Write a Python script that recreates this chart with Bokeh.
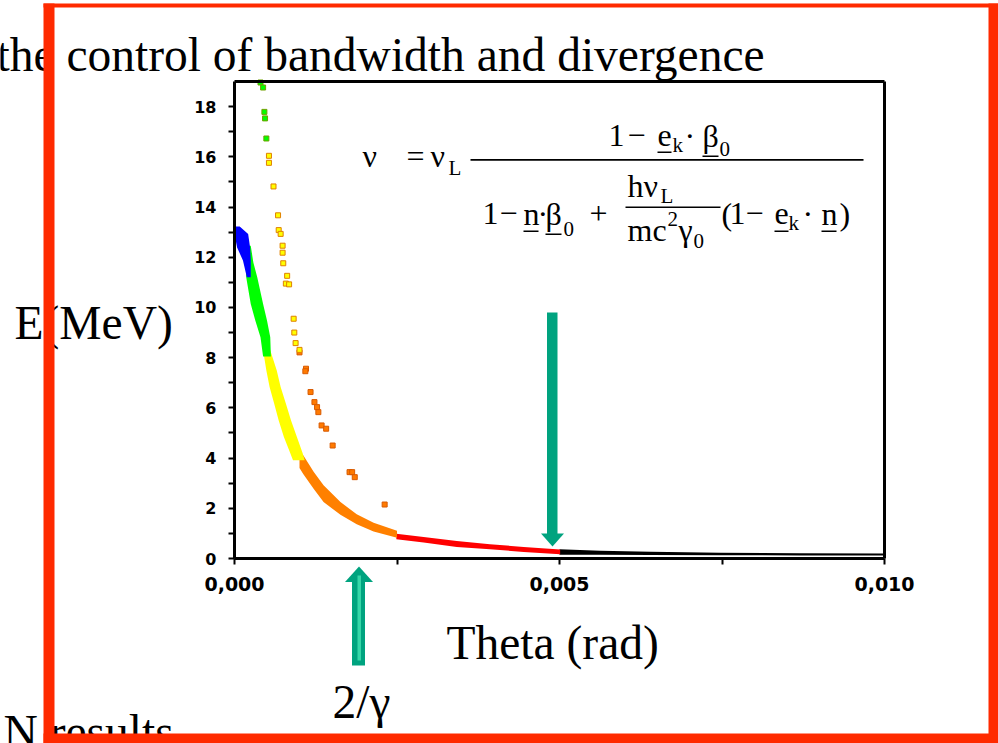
from bokeh.plotting import figure
from bokeh.models import Range1d, FixedTicker, Label, BoxAnnotation, PolyAnnotation, LinearAxis
from bokeh.embed import file_html
from bokeh.resources import INLINE

# ---------------- data (theta in mrad, E in MeV) ----------------
x_ticks = [0, 5, 10]
x_minor = [2.5, 7.5]
x_tick_labels = ["0,000", "0,005", "0,010"]
y_ticks = [0, 2, 4, 6, 8, 10, 12, 14, 16, 18]
y_minor = [1, 3, 5, 7, 9, 11, 13, 15, 17]
y_tick_labels = ["0", "2", "4", "6", "8", "10", "12", "14", "16", "18"]
x_axis_max = 10
y_axis_max = 19

# steep part of the band: E levels with left / right theta edges
blue_E = [13.22, 12.93, 12.39, 11.87, 11.20]
blue_lo = [0.0, 0.0, 0.04, 0.13, 0.19]
blue_hi = [0.08, 0.21, 0.24, 0.25, 0.25]

green_E = [12.46, 11.79, 11.20, 10.14, 9.48, 8.81, 8.05]
green_lo = [0.20, 0.17, 0.18, 0.25, 0.32, 0.40, 0.44]
green_hi = [0.25, 0.29, 0.35, 0.44, 0.50, 0.55, 0.56]

yellow_E = [8.30, 7.49, 6.83, 6.17, 5.50, 4.84, 4.18, 3.91]
yellow_lo = [0.44, 0.49, 0.54, 0.61, 0.68, 0.76, 0.86, 0.90]
yellow_hi = [0.55, 0.65, 0.71, 0.79, 0.87, 0.96, 1.05, 1.08]

# flat part of the band: theta with lower / upper E edges
orange_t = [1.00, 1.06, 1.22, 1.37, 1.63, 1.88, 2.14, 2.50]
orange_lo = [3.60, 3.36, 2.77, 2.25, 1.74, 1.36, 1.08, 0.83]
orange_hi = [4.20, 4.10, 3.45, 2.92, 2.25, 1.76, 1.42, 1.11]

red_t = [2.49, 2.91, 3.42, 3.93, 4.45, 5.01]
red_lo = [0.77, 0.64, 0.46, 0.37, 0.26, 0.17]
red_hi = [0.99, 0.86, 0.70, 0.57, 0.46, 0.36]

black_t = [5.00, 5.63, 6.40, 7.47, 8.70, 9.98]
black_lo = [0.15, 0.15, 0.14, 0.13, 0.12, 0.12]
black_hi = [0.37, 0.31, 0.27, 0.23, 0.21, 0.20]

# scattered points
green_pt_t = [0.40, 0.44, 0.46, 0.47, 0.49]
green_pt_E = [18.96, 18.76, 17.79, 17.53, 16.73]
yellow_pt_t = [0.53, 0.53, 0.60, 0.67, 0.68, 0.71, 0.74, 0.74, 0.75, 0.81, 0.79, 0.84, 0.91, 0.92, 0.94, 1.00]
yellow_pt_E = [16.04, 15.76, 14.82, 13.67, 13.08, 12.93, 12.46, 12.18, 11.76, 11.26, 10.95, 10.92, 9.55, 9.00, 8.58, 8.31]
orange_pt_t = [1.00, 1.10, 1.09, 1.17, 1.23, 1.27, 1.29, 1.34, 1.41, 1.51, 1.77, 1.81, 1.85, 2.31]
orange_pt_E = [8.21, 7.56, 7.46, 6.63, 6.23, 6.03, 5.83, 5.30, 5.17, 4.50, 3.44, 3.44, 3.24, 2.15]

# ---------------- layout ----------------
W, H = 998, 743
FL, FR, FT, FB = 234, 884, 81, 558   # pixel box of the plot area inside the slide


def X(px):
    return (px - FL) * x_axis_max / (FR - FL)


def Y(py):
    return (FB - py) * y_axis_max / (FB - FT)


p = figure(width=W, height=H, x_range=Range1d(X(0), X(W)), y_range=Range1d(Y(H), Y(0)),
           output_backend="svg", toolbar_location=None, title=None,
           x_axis_location=None, y_axis_location=None,
           min_border=0, min_border_left=0, min_border_right=0,
           min_border_top=0, min_border_bottom=0)
p.background_fill_color = "white"
p.border_fill_color = "white"
p.outline_line_color = None
p.xgrid.visible = False
p.ygrid.visible = False


def style_axis(ax, label_size):
    ax.axis_line_width = 3
    ax.axis_line_color = "black"
    ax.major_tick_line_width = 2
    ax.minor_tick_line_width = 2
    ax.major_tick_in = 0
    ax.major_tick_out = 6
    ax.minor_tick_in = 0
    ax.minor_tick_out = 6
    ax.major_label_text_font = "DejaVu Sans"
    ax.major_label_text_font_style = "bold"
    ax.major_label_text_color = "black"
    ax.major_label_text_font_size = label_size
    ax.major_label_standoff = 12


xaxis = LinearAxis(fixed_location=0, bounds=(0, x_axis_max),
                   ticker=FixedTicker(ticks=x_ticks, minor_ticks=x_minor),
                   major_label_overrides=dict(zip(x_ticks, x_tick_labels)))
style_axis(xaxis, "19px")
p.add_layout(xaxis, "below")

yaxis = LinearAxis(fixed_location=0, bounds=(0, y_axis_max),
                   ticker=FixedTicker(ticks=y_ticks, minor_ticks=y_minor),
                   major_label_overrides=dict(zip(y_ticks, y_tick_labels)))
style_axis(yaxis, "16px")
p.add_layout(yaxis, "left")

topaxis = LinearAxis(fixed_location=y_axis_max, bounds=(0, x_axis_max),
                     ticker=FixedTicker(ticks=[], minor_ticks=[]))
style_axis(topaxis, "16px")
p.add_layout(topaxis, "above")

rightaxis = LinearAxis(fixed_location=x_axis_max, bounds=(0, y_axis_max),
                       ticker=FixedTicker(ticks=[], minor_ticks=[]))
style_axis(rightaxis, "16px")
p.add_layout(rightaxis, "right")

# ---------------- band ----------------
p.varea(x=black_t, y1=black_lo, y2=black_hi, fill_color="#000000")
p.varea(x=red_t, y1=red_lo, y2=red_hi, fill_color="#ff0000")
p.varea(x=orange_t, y1=orange_lo, y2=orange_hi, fill_color="#ff8000")
p.harea(y=yellow_E, x1=yellow_lo, x2=yellow_hi, fill_color="#ffff00")
p.harea(y=green_E, x1=green_lo, x2=green_hi, fill_color="#00ff00")
p.harea(y=blue_E, x1=blue_lo, x2=blue_hi, fill_color="#0000ff")

p.scatter(orange_pt_t, orange_pt_E, marker="square", size=5,
          fill_color="#ff7a00", line_color="#d85a00", line_width=1)
p.scatter(yellow_pt_t, yellow_pt_E, marker="square", size=5,
          fill_color="#ffff00", line_color="#e08000", line_width=1)
p.scatter(green_pt_t, green_pt_E, marker="square", size=5,
          fill_color="#00ff00", line_color="#70a000", line_width=1)

# ---------------- helpers for slide texts / decorations ----------------
KB = 0.36  # correction so that py is the text baseline


def txt(s, px, py, size, font="Liberation Serif", align="left"):
    p.add_layout(Label(x=X(px), y=Y(py - KB * size), text=s, text_font=font,
                       text_font_size=f"{size}px", text_align=align,
                       text_baseline="alphabetic", text_color="black"))


def box(x0, x1, y0, y1, color):
    p.add_layout(BoxAnnotation(left=X(x0), right=X(x1), top=Y(y0), bottom=Y(y1),
                               fill_color=color, fill_alpha=1.0,
                               line_color=None, line_alpha=0.0))


def poly(pts, color):
    p.add_layout(PolyAnnotation(xs=[X(a) for a, b in pts], ys=[Y(b) for a, b in pts],
                                fill_color=color, fill_alpha=1.0,
                                line_color=None, line_alpha=0.0))


def ul(x0, x1, y):
    box(x0, x1, y, y + 1.5, "black")


BIG = 47.5
txt("the control of bandwidth and divergence", -4, 72, BIG)
txt("E(MeV)", 14, 340, BIG)
txt("Theta (rad)", 446, 660, BIG)
txt("2/γ", 332, 719, BIG)
txt("N results", 3, 749, BIG)

# formula
FS, SS = 32, 21
txt("ν", 362, 167, FS)
txt("=", 406, 167, FS)
txt("ν", 430, 167, FS)
txt("L", 448, 175, SS)
box(470, 863, 158.5, 160.2, "black")
# numerator
txt("1", 608, 147, FS)
txt("−", 627, 147, FS)
txt("e", 657, 147, FS)
ul(657, 671, 151)
txt("k", 672, 152, SS)
txt("·", 684, 147, FS)
txt("β", 702, 147, FS)
ul(702, 718, 155)
txt("0", 719, 156, SS)
# denominator
txt("1", 482, 225, FS)
txt("−", 499, 225, FS)
txt("n", 523, 225, FS)
ul(523, 538, 230)
txt("·", 537, 225, FS)
txt("β", 545, 225, FS)
ul(545, 561, 233)
txt("0", 563, 236, SS)
txt("+", 589, 225, FS)
txt("hν", 627, 197, FS)
txt("L", 660, 203, SS)
box(625, 720, 206, 207.5, "black")
txt("mc", 627, 241, FS)
txt("2", 667, 226, SS)
txt("γ", 678, 241, FS)
txt("0", 693, 248, SS)
txt("(", 721, 225, FS)
txt("1", 729, 225, FS)
txt("−", 745, 225, FS)
txt("e", 774, 225, FS)
ul(774, 788, 230)
txt("k", 788, 230, SS)
txt("·", 802, 225, FS)
txt("n", 821, 225, FS)
ul(821, 836, 230)
txt(")", 839, 225, FS)

# arrows
TEAL = "#00a37f"
box(546.5, 557, 312, 534, TEAL)
poly([(540.5, 533), (563.5, 533), (552, 546)], TEAL)
box(351.5, 364.5, 580, 665, TEAL)
poly([(344.5, 581.5), (372.5, 581.5), (358.5, 566)], TEAL)
box(357, 360.5, 575, 660, "#36d6a8")

# red slide frame
RED = "#ff2a00"
box(43, 54, 3, 743, RED)
box(43, 998, 3, 7, RED)
box(988, 998, 3, 743, RED)
box(43, 998, 733, 743, RED)

open("out.html", "w").write(file_html(p, INLINE))
